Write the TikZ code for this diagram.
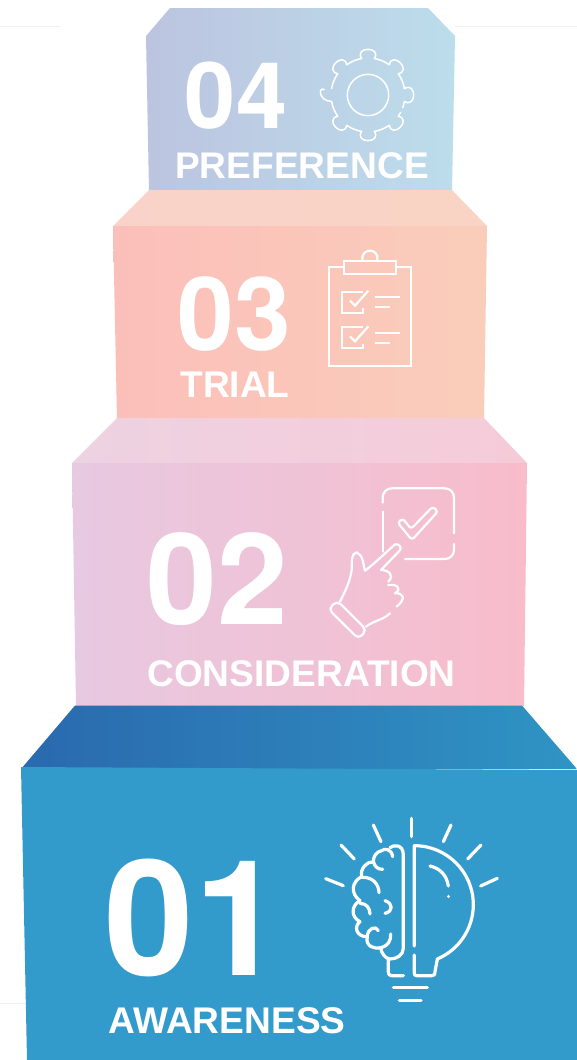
\documentclass[tikz,border=0pt]{standalone}
\usepackage{fontspec}
\setmainfont{Liberation Sans}
\newfontfamily\digitfont[BoldFont={TeX Gyre Heros Bold}]{TeX Gyre Heros}
\tikzset{
  big04/.style={font=\digitfont\fontsize{92}{92}\selectfont\bfseries,text=white,inner sep=0pt,anchor=base},
  big03/.style={font=\digitfont\fontsize{102}{102}\selectfont\bfseries,text=white,inner sep=0pt,anchor=base},
  big02/.style={font=\digitfont\fontsize{127}{127}\selectfont\bfseries,text=white,inner sep=0pt,anchor=base},
  big01/.style={font=\digitfont\fontsize{161}{161}\selectfont\bfseries,text=white,inner sep=0pt,anchor=base},
  steplabel/.style={font=\fontsize{37.1}{37}\selectfont\bfseries,text=white,inner sep=0pt,anchor=base},
  thinicon/.style={draw=white,line width=1.5pt,line cap=round,line join=round},
  midicon/.style={draw=white,line width=2.2pt,line cap=round,line join=round},
  bulbicon/.style={draw=white,line width=3.2pt,line cap=round,line join=round},
  faint/.style={draw=black!6,line width=0.7pt},
}
\definecolor{fourL}{HTML}{BCC4E0}\definecolor{fourR}{HTML}{BCDDEB}
\definecolor{threeL}{HTML}{FBBFBA}\definecolor{threeR}{HTML}{FACDBA}
\definecolor{threeTL}{HTML}{F9D2C9}\definecolor{threeTR}{HTML}{F9D4C4}
\definecolor{twoL}{HTML}{E7C9E1}\definecolor{twoR}{HTML}{F8BCCB}
\definecolor{twoTL}{HTML}{EDD2E2}\definecolor{twoTR}{HTML}{F6CBD8}
\definecolor{oneB}{HTML}{329BCB}
\definecolor{oneTL}{HTML}{2A69AE}\definecolor{oneTR}{HTML}{2F94C4}
\begin{document}
\begin{tikzpicture}[x=1pt,y=-1pt]
\useasboundingbox (0,0) rectangle (577,1060);
\fill[white] (0,0) rectangle (577,1060);
% faint rules
\draw[faint] (0,26) -- (60,26);
\draw[faint] (455,26) -- (577,26);
\draw[faint] (0,1003) -- (27,1003);
% step 4
\shade[left color=fourL,right color=fourR] (170,8) -- (428,8) -- (455,36) -- (452,191) -- (149,191) -- (146,36) -- cycle;
% step 3
\shade[left color=threeTL,right color=threeTR] (149,190) -- (452,190) -- (487,226) -- (113,226) -- cycle;
\shade[left color=threeL,right color=threeR] (113,226) -- (487,226) -- (484,419) -- (117,419) -- cycle;
% step 2
\shade[left color=twoTL,right color=twoTR] (117,418) -- (484,418) -- (527,463) -- (72,463) -- cycle;
\shade[left color=twoL,right color=twoR] (72,463) -- (527,463) -- (524,706) -- (76,706) -- cycle;
% step 1
\shade[left color=oneTL,right color=oneTR] (75,705.5) -- (522,705.5) -- (577,769) -- (21,769) -- cycle;
\fill[oneB] (21,767) -- (577,770) -- (577,1060) -- (27,1060) -- cycle;
% texts
\node[big04] (n4) at (236,128) {04};
\node[steplabel] (l4) at (302,178) {PREFERENCE};
\node[big03] (n3) at (234.5,350) {03};
\node[steplabel] (l3) at (235,397) {TRIAL};
\node[big02] (n2) at (217,624) {02};
\node[steplabel] (l2) at (301.5,686) {CONSIDERATION};
\node[big01] (n1) at (194,975) {01};
\node[steplabel] (l1) at (227,1033) {AWARENESS};
% gear
\begin{scope}[shift={(368,95)},x=0.3333pt,y=-0.3333pt]
\draw[thinicon] (0,0) circle[radius=62];
\foreach \a in {45,90,135,225,270,315}{
  \draw[thinicon] ({\a-10}:111) .. controls ({\a-16}:152) and ({\a+16}:152) .. ({\a+10}:111);
}
\foreach \a in {45,90,225,270}{
  \draw[thinicon] ({\a+10}:111) arc[start angle={\a+10},end angle={\a+35},radius=111];
}
\draw[thinicon] (325:111) arc[start angle=325,end angle=350,radius=111];
\draw[thinicon] (-10:111) .. controls (-16:152) and (16:152) .. (10:111) arc[start angle=10,end angle=20,radius=111];
\draw[thinicon] (28:111) arc[start angle=28,end angle=35,radius=111];
\draw[thinicon] (145:111) arc[start angle=145,end angle=170,radius=111] .. controls (173:150) and (190:152) .. (187:132);
\draw[thinicon] (190:111) arc[start angle=190,end angle=215,radius=111];
\end{scope}
% clipboard
\begin{scope}[shift={(300,240)},x=0.3333pt,y=-0.3333pt]
\draw[midicon,line cap=butt,line join=miter] (133,80) -- (87,80) -- (87,378) -- (332,378) -- (332,80) -- (288,80);
\draw[midicon,line cap=butt,line join=miter] (133,62) rectangle (288,103);
\draw[midicon,line cap=butt] (188,62) arc[start angle=162,end angle=378,radius=23];
\foreach \d in {0,107}{
  \draw[midicon,line cap=butt,line join=miter] (190,{155+\d}) -- (126,{155+\d}) -- (126,{218+\d}) -- (190,{218+\d}) -- (190,{204+\d});
  \draw[midicon,line cap=butt,line join=miter] (150,{182+\d}) -- (165,{197+\d}) -- (205,{152+\d});
  \draw[midicon,line cap=butt] (225,{172+\d}) -- (300,{172+\d});
  \draw[midicon,line cap=butt] (225,{202+\d}) -- (270,{202+\d});
}
\end{scope}
% hand and check box
\begin{scope}[shift={(310,480)},x=0.3333pt,y=-0.3333pt]
\draw[midicon,rounded corners=9pt] (218,68) -- (218,25) -- (432,25) -- (432,160);
\draw[midicon,rounded corners=9pt] (432,192) -- (432,237) -- (285,237);
\draw[midicon] (218,95) -- (218,215);
\draw[midicon,rounded corners=3pt] (263,128) -- (278,115) -- (303,147) -- (368,80) -- (384,94) -- (306,180) -- cycle;
\draw[midicon] (255,193) .. controls (230,215) and (195,250) .. (165,272) .. controls (160,255) and (160,225) .. (140,217) .. controls (125,220) and (125,240) .. (125,270) .. controls (120,305) and (105,335) .. (90,365);
\draw[midicon] (255,193) .. controls (268,190) and (278,205) .. (268,213) -- (213,270);
\draw[midicon] (213,270) .. controls (235,270) and (255,285) .. (235,305);
\draw[midicon] (235,315) .. controls (255,310) and (280,325) .. (255,340);
\draw[midicon] (255,340) .. controls (280,338) and (290,355) .. (260,380);
\draw[midicon] (240,400) .. controls (220,420) and (195,420) .. (168,440);
\draw[midicon,rounded corners=5pt] (55,387) -- (82,362) -- (170,450) -- (146,477) -- cycle;
\end{scope}
% bulb and brain
\begin{scope}[shift={(310,810)},x=0.3333pt,y=-0.3333pt]
\foreach \xa/\ya/\xb/\yb in {305/25/305/80,190/45/213/95,93/105/133/147,47/206/100/227,423/45/400/95,513/105/473/147,562/205/512/228}{
  \draw[bulbicon] (\xa,\ya) -- (\xb,\yb);
}
\draw[bulbicon] (313,408) -- (313,107) arc[start angle=-90,end angle=67,radius=177] -- (375,485) .. controls (375,495) and (372,497) .. (365,497) -- (320,497) .. controls (315,497) and (313,495) .. (313,490) -- (313,435);
\draw[bulbicon] (360,168) .. controls (390,175) and (410,195) .. (415,228);
\draw[bulbicon] (415,259) -- (415,259.5);
\draw[bulbicon] (250,532) -- (352,532);
\draw[bulbicon] (268,572) -- (333,572);
\draw[bulbicon] (280,497) -- (245,497) .. controls (238,497) and (235,493) .. (235,487) -- (235,447);
\draw[bulbicon] (240,113) .. controls (248,105) and (280,100) .. (280,135) -- (280,415) .. controls (280,435) and (260,447) .. (240,447) .. controls (225,445) and (215,430) .. (212,415);
\draw[bulbicon] (248,140) .. controls (245,115) and (222,115) .. (215,122) .. controls (198,125) and (190,140) .. (190,155);
\draw[bulbicon] (190,155) .. controls (195,172) and (205,178) .. (218,178);
\draw[bulbicon] (190,155) .. controls (170,155) and (150,175) .. (155,200);
\draw[bulbicon] (155,200) .. controls (125,215) and (120,250) .. (150,272);
\draw[bulbicon] (155,202) .. controls (190,200) and (207,225) .. (207,248);
\draw[bulbicon] (150,272) .. controls (125,285) and (120,320) .. (150,335);
\draw[bulbicon] (150,280) .. controls (170,280) and (180,295) .. (180,312);
\draw[bulbicon] (225,272) .. controls (250,280) and (250,305) .. (225,310);
\draw[bulbicon] (150,335) .. controls (130,350) and (140,380) .. (170,380);
\draw[bulbicon] (172,380) .. controls (165,410) and (195,418) .. (212,413) .. controls (235,408) and (243,392) .. (242,372);
\draw[bulbicon] (172,380) .. controls (172,355) and (198,345) .. (205,362);
\end{scope}
\end{tikzpicture}
\end{document}
